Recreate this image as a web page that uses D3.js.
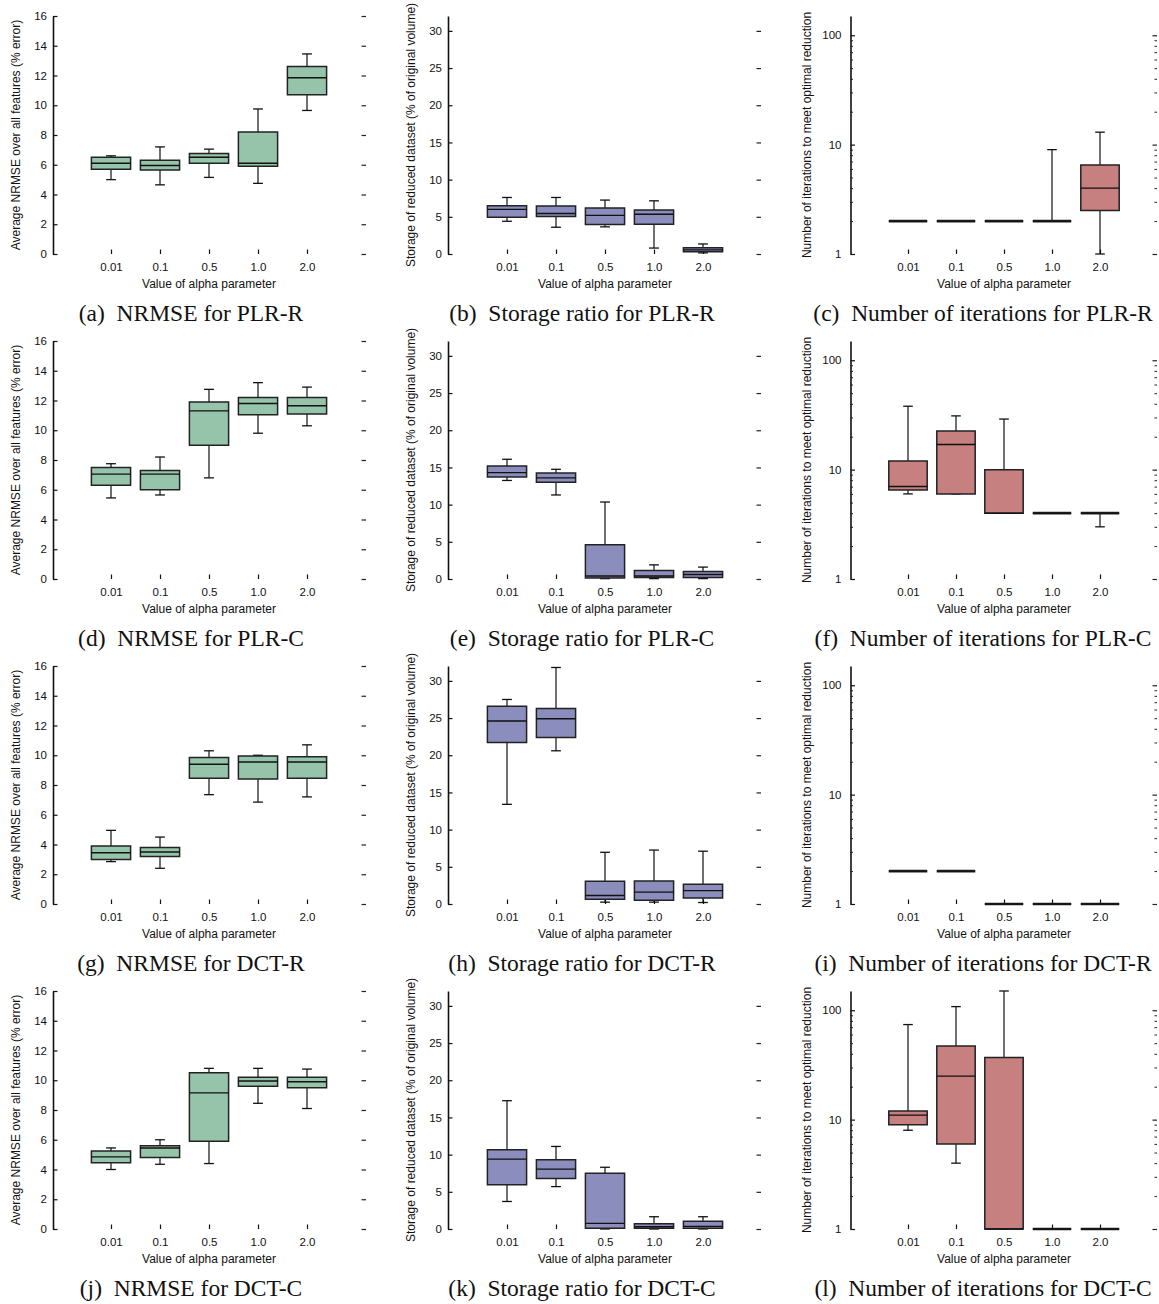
<!DOCTYPE html>
<html><head><meta charset="utf-8">
<script src="https://cdn.jsdelivr.net/npm/d3@7"></script>
<style>body{margin:0;background:#fff}</style>
</head><body><svg id="c" width="1159" height="1304"></svg>
<script>
const alphaLabels = ["0.01","0.1","0.5","1.0","2.0"];
// each entry: [min, q1, median, q3, max]
const nrmsePLRR = [[5.0,5.7,6.1,6.5,6.6],[4.65,5.65,5.95,6.3,7.2],[5.15,6.1,6.5,6.75,7.05],[4.75,5.9,6.1,8.2,9.75],[9.65,10.7,11.85,12.6,13.45]];
const storagePLRR = [[4.4,4.95,6.0,6.5,7.6],[3.6,5.05,5.45,6.45,7.6],[3.65,3.95,5.2,6.2,7.25],[0.8,4.0,5.35,5.9,7.15],[0.15,0.3,0.55,0.85,1.35]];
const iterPLRR = [[2,2,2,2,2],[2,2,2,2,2],[2,2,2,2,2],[2,2,2,2,9],[1,2.5,4,6.5,13]];
const nrmsePLRC = [[5.45,6.3,7.05,7.5,7.75],[5.65,6.0,7.05,7.3,8.2],[6.8,9.0,11.3,11.9,12.75],[9.8,11.05,11.8,12.2,13.2],[10.3,11.1,11.65,12.2,12.9]];
const storagePLRC = [[13.25,13.7,14.3,15.2,16.1],[11.3,13.0,13.6,14.25,14.75],[0.05,0.15,0.4,4.6,10.35],[0.05,0.2,0.4,1.15,1.9],[0.05,0.2,0.6,1.0,1.6]];
const iterPLRC = [[6,6.5,7,12,38],[6,6,17,22.5,31],[4,4,4,10,29],[4,4,4,4,4],[3,4,4,4,4]];
const nrmseDCTR = [[2.85,3.0,3.45,3.9,4.95],[2.4,3.2,3.5,3.8,4.5],[7.35,8.45,9.4,9.85,10.3],[6.85,8.4,9.55,9.95,10.0],[7.2,8.45,9.55,9.9,10.7]];
const storageDCTR = [[13.4,21.7,24.6,26.6,27.5],[20.6,22.4,24.9,26.3,31.8],[0.25,0.65,1.15,3.05,6.95],[0.25,0.5,1.6,3.1,7.25],[0.2,0.8,1.8,2.65,7.1]];
const iterDCTR = [[2,2,2,2,2],[2,2,2,2,2],[1,1,1,1,1],[1,1,1,1,1],[1,1,1,1,1]];
const nrmseDCTC = [[4.0,4.45,4.85,5.25,5.45],[4.35,4.8,5.45,5.6,6.0],[4.4,5.9,9.15,10.5,10.8],[8.45,9.6,9.95,10.2,10.8],[8.1,9.5,9.9,10.2,10.75]];
const storageDCTC = [[3.7,5.95,9.4,10.65,17.25],[5.7,6.8,8.05,9.3,11.1],[0,0.1,0.75,7.5,8.3],[0,0.1,0.3,0.7,1.65],[0,0.1,0.35,1.05,1.65]];
const iterDCTC = [[8,9,11,12,74],[4,6,25,47,108],[1,1,1,37,150],[1,1,1,1,1],[1,1,1,1,1]];

const nrmseTicks = [0,2,4,6,8,10,12,14,16];
const storageTicks = [0,5,10,15,20,25,30];
const iterTicks = [1,10,100];
const iterMinorTicks = [2,3,4,5,6,7,8,9,20,30,40,50,60,70,80,90];

const yLabels = ["Average NRMSE over all features (% error)",
                 "Storage of reduced dataset (% of original volume)",
                 "Number of iterations to meet optimal reduction"];
const xLabel = "Value of alpha parameter";
const captions = [
  ["(a)  NRMSE for PLR-R","(b)  Storage ratio for PLR-R","(c)  Number of iterations for PLR-R"],
  ["(d)  NRMSE for PLR-C","(e)  Storage ratio for PLR-C","(f)  Number of iterations for PLR-C"],
  ["(g)  NRMSE for DCT-R","(h)  Storage ratio for DCT-R","(i)  Number of iterations for DCT-R"],
  ["(j)  NRMSE for DCT-C","(k)  Storage ratio for DCT-C","(l)  Number of iterations for DCT-C"]
];
const panelData = [
  [nrmsePLRR, storagePLRR, iterPLRR],
  [nrmsePLRC, storagePLRC, iterPLRC],
  [nrmseDCTR, storageDCTR, iterDCTR],
  [nrmseDCTC, storageDCTC, iterDCTC]
];

const svg = d3.select("#c");
const SANS = "'Liberation Sans', Arial, sans-serif";
const SERIF = "'Liberation Serif', 'Times New Roman', serif";

const colAxisX = [53, 448, 850.5];
const colRightX = [366, 761, 1157];
const colFirstX = [111, 507, 908];
const colStep = [49, 49, 48];
const fills = ["#96c4aa", "#8b8dbd", "#c5807f"];
const rowPitch = 325;

function drawPanel(r, c) {
  const data = panelData[r][c];
  const y0 = 254 + rowPitch * r, yTop = 16 + rowPitch * r;
  const g = svg.append("g");
  let y;
  if (c === 0) y = d3.scaleLinear().domain([0,16]).range([y0, yTop]);
  else if (c === 1) y = d3.scaleLinear().domain([0,32]).range([y0, yTop]);
  else y = d3.scaleLog().domain([1,150]).range([y0, yTop]);
  const x = d3.scalePoint().domain(alphaLabels).range([colFirstX[c], colFirstX[c] + 4 * colStep[c]]);
  const bw = 0.8 * colStep[c], cw = 0.2 * colStep[c];

  // left axis
  const ticks = c === 0 ? nrmseTicks : c === 1 ? storageTicks : iterTicks;
  const la = g.append("g").attr("transform", `translate(${colAxisX[c]},0)`)
    .call(d3.axisLeft(y).tickValues(ticks).tickSizeInner(-4.5).tickSizeOuter(0)
      .tickPadding(c === 2 ? 9 : 6).tickFormat(d3.format("d")));
  la.select(".domain").attr("stroke","#111").attr("stroke-width",1.6);
  la.selectAll(".tick line").attr("stroke","#111").attr("stroke-width",1.2);
  la.selectAll(".tick text").style("font-family",SANS).style("font-size","11.5px").attr("fill","#111");
  // right mirror ticks
  const ra = g.append("g").attr("transform", `translate(${colRightX[c]},0)`)
    .call(d3.axisLeft(y).tickValues(ticks).tickSize(4.5).tickFormat(""));
  ra.select(".domain").remove();
  ra.selectAll(".tick line").attr("stroke","#222").attr("stroke-width",1.2);
  if (c === 2) {
    const lm = g.append("g").attr("transform", `translate(${colAxisX[c]},0)`)
      .call(d3.axisLeft(y).tickValues(iterMinorTicks).tickSize(-2.5).tickFormat(""));
    lm.select(".domain").remove();
    lm.selectAll(".tick line").attr("stroke","#222").attr("stroke-width",1);
    const rm = g.append("g").attr("transform", `translate(${colRightX[c]},0)`)
      .call(d3.axisLeft(y).tickValues(iterMinorTicks).tickSize(2.5).tickFormat(""));
    rm.select(".domain").remove();
    rm.selectAll(".tick line").attr("stroke","#222").attr("stroke-width",1);
  }
  // bottom ticks (no axis line)
  const ba = g.append("g").attr("transform", `translate(0,${y0})`)
    .call(d3.axisBottom(x).tickSize(-4.5).tickPadding(9));
  ba.select(".domain").remove();
  ba.selectAll(".tick line").attr("stroke","#111").attr("stroke-width",1.2);
  ba.selectAll(".tick text").style("font-family",SANS).style("font-size","11.5px").attr("fill","#111");

  // labels
  const cx = x(alphaLabels[2]);
  g.append("text").attr("x", cx).attr("y", y0 + 34).attr("text-anchor","middle")
    .style("font-family",SANS).style("font-size","12px").attr("fill","#111").text(xLabel);
  const lx = colAxisX[c] - (c === 0 ? 33 : c === 1 ? 33 : 40);
  g.append("text").attr("transform", `translate(${lx},${(y0 + yTop) / 2}) rotate(-90)`)
    .attr("text-anchor","middle").style("font-family",SANS).style("font-size","12px").attr("fill","#111")
    .text(yLabels[c]);

  // boxes
  const bg = g.selectAll("g.box").data(data).join("g").attr("class","box");
  bg.append("line").attr("x1",(d,i)=>x(alphaLabels[i])).attr("x2",(d,i)=>x(alphaLabels[i]))
    .attr("y1",d=>y(d[4])).attr("y2",d=>y(d[0])).attr("stroke","#111").attr("stroke-width",1.2);
  bg.append("line").attr("x1",(d,i)=>x(alphaLabels[i])-cw/2).attr("x2",(d,i)=>x(alphaLabels[i])+cw/2)
    .attr("y1",d=>y(d[4])).attr("y2",d=>y(d[4])).attr("stroke","#111").attr("stroke-width",1.3);
  bg.append("line").attr("x1",(d,i)=>x(alphaLabels[i])-cw/2).attr("x2",(d,i)=>x(alphaLabels[i])+cw/2)
    .attr("y1",d=>y(d[0])).attr("y2",d=>y(d[0])).attr("stroke","#111").attr("stroke-width",1.3);
  bg.append("path")
    .attr("d",(d,i)=>{const xl=x(alphaLabels[i])-bw/2, yt=y(d[3]), yb=y(d[1]);
      return `M${xl},${yt}H${xl+bw}V${yb}H${xl}Z`;})
    .attr("fill",fills[c]).attr("stroke","#222")
    .attr("stroke-width",d=>d[3]===d[1]?2.6:1.5);
  bg.append("line").attr("x1",(d,i)=>x(alphaLabels[i])-bw/2).attr("x2",(d,i)=>x(alphaLabels[i])+bw/2)
    .attr("y1",d=>y(d[2])).attr("y2",d=>y(d[2])).attr("stroke","#111").attr("stroke-width",1.4);

  // caption
  const capX = [191, 582, 983][c];
  svg.append("text").attr("x", capX).attr("y", 321 + rowPitch * r).attr("text-anchor","middle")
    .style("font-family",SERIF).style("font-size","23.5px").attr("fill","#111")
    .style("white-space","pre").text(captions[r][c]);
}

for (let r = 0; r < 4; r++) for (let c = 0; c < 3; c++) drawPanel(r, c);
</script>
</body></html>
